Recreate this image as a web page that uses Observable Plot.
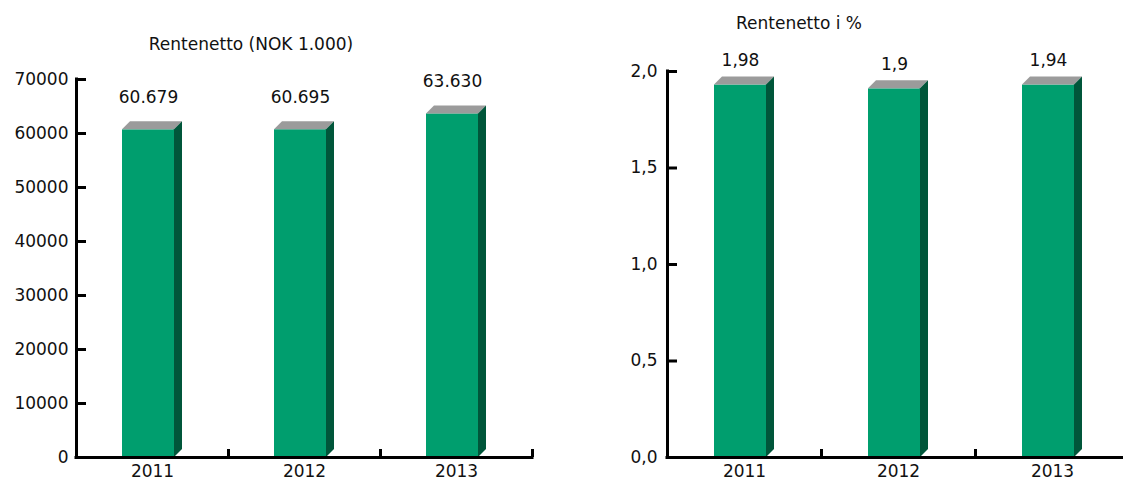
<!DOCTYPE html>
<html><head><meta charset="utf-8">
<script src="https://cdn.jsdelivr.net/npm/d3@7"></script>
<script src="https://cdn.jsdelivr.net/npm/@observablehq/plot@0.6"></script>
<style>
body{margin:0;background:#fff;}
#wrap{position:relative;width:1123px;height:482px;overflow:hidden;font-family:"DejaVu Sans",sans-serif;}
.title{position:absolute;font-size:17px;color:#111;white-space:nowrap;transform:translate(-50%,-50%);}
.panel{position:absolute;top:0;height:482px;}
.panel svg{max-width:none !important;}
</style></head><body>
<div id="wrap">
 <div id="left" class="panel" style="left:0;width:560px"></div>
 <div id="right" class="panel" style="left:560px;width:575px"></div>
 <div class="title" style="left:251px;top:44px">Rentenetto (NOK 1.000)</div>
 <div class="title" style="left:799px;top:23px">Rentenetto i %</div>
</div>
<script>
// ---- data ----
const years = ["2011", "2012", "2013"];
const amountValues = [60679, 60695, 63630];
const amountTicks = [0, 10000, 20000, 30000, 40000, 50000, 60000, 70000];
const rateValues = [1.93, 1.91, 1.93];          // bar heights as drawn
const rateLabels = ["1,98", "1,9", "1,94"];     // printed labels
const rateTicks = [0, 0.5, 1.0, 1.5, 2.0];

const FRONT = "#009e6e", SIDE = "#00563a", TOP = "#9b9b9b";
const DEPTH = 8;
const nb = d3.formatLocale({decimal: ",", thousands: ".", grouping: [3], currency: ["", ""]});

function chart(cfg) {
  const data = years.map((year, i) => ({year, value: cfg.values[i], label: cfg.labels[i]}));
  const frameW = cfg.width - cfg.ml - cfg.mr;
  const frameH = cfg.height - cfg.mt - cfg.mb;
  const step = frameW / years.length;
  const pInner = 1 - (cfg.barW + DEPTH) / step;
  const plot = Plot.plot({
    width: cfg.width, height: cfg.height,
    marginLeft: cfg.ml, marginRight: cfg.mr, marginTop: cfg.mt, marginBottom: cfg.mb,
    style: {fontFamily: "'DejaVu Sans', sans-serif", fontSize: "17px", color: "#111", background: "transparent", maxWidth: "none"},
    x: {type: "band", domain: years, paddingInner: pInner, paddingOuter: pInner / 2, round: false, axis: null, label: null},
    y: {domain: cfg.domain, axis: null, label: null},
    marks: [
      Plot.barY(data, {x: "year", y: "value", fill: FRONT, insetRight: DEPTH, insetLeft: 0}),
      Plot.axisY({ticks: cfg.ticks, tickSize: 0, tickPadding: cfg.tickPad, tickFormat: cfg.tickFormat, label: null}),
      Plot.axisX({tickSize: 0, tickPadding: 7, label: null}),
      Plot.tickY(cfg.ticks, {y: d => d, insetRight: frameW - 10, stroke: "#000", strokeWidth: 3}),
      Plot.tickX(years, {x: d => d, dx: step / 2, insetTop: frameH - 8, stroke: "#000", strokeWidth: 3}),
      Plot.tickX(years.slice(0, 1), {x: d => d, dx: -step / 2, stroke: "#000", strokeWidth: 3, strokeLinecap: "square"}),
      Plot.ruleY([0], {stroke: "#000", strokeWidth: 3, strokeLinecap: "square"}),
      Plot.text(data, {x: "year", y: "value", text: "label", dx: -DEPTH / 2, dy: cfg.labelDy, fontSize: 17, fill: "#111"})
    ]
  });
  // 3D top and side faces, positioned through the plot's own scales
  const xs = plot.scale("x"), ys = plot.scale("y");
  const bw = xs.bandwidth;
  const ns = "http://www.w3.org/2000/svg";
  const g = document.createElementNS(ns, "g");
  data.forEach(d => {
    const x0 = xs.apply(d.year);
    const xR = x0 + bw - DEPTH;
    const yT = ys.apply(d.value), yB = ys.apply(0);
    const faces = [
      [TOP, [[x0, yT], [x0 + DEPTH, yT - DEPTH], [xR + DEPTH, yT - DEPTH], [xR, yT]]],
      [SIDE, [[xR, yT], [xR + DEPTH, yT - DEPTH], [xR + DEPTH, yB - DEPTH], [xR, yB]]]
    ];
    faces.forEach(([c, pts]) => {
      const p = document.createElementNS(ns, "polygon");
      p.setAttribute("points", pts.map(q => q.join(",")).join(" "));
      p.setAttribute("fill", c);
      g.appendChild(p);
    });
  });
  const barG = plot.querySelector('g[aria-label="bar"]');
  if (barG) barG.after(g); else plot.appendChild(g);
  return plot;
}

document.getElementById("left").appendChild(chart({
  width: 560, height: 482, ml: 76, mr: 28, mt: 79, mb: 25,
  domain: [0, 70000], ticks: amountTicks, tickPad: 8,
  tickFormat: d => String(d),
  values: amountValues, labels: amountValues.map(v => nb.format(",d")(v)),
  barW: 52, labelDy: -32
}));

document.getElementById("right").appendChild(chart({
  width: 575, height: 482, ml: 107, mr: 6, mt: 71, mb: 25,
  domain: [0, 2], ticks: rateTicks, tickPad: 10,
  tickFormat: d => nb.format(".1f")(d),
  values: rateValues, labels: rateLabels,
  barW: 52, labelDy: -24
}));
</script>
</body></html>
